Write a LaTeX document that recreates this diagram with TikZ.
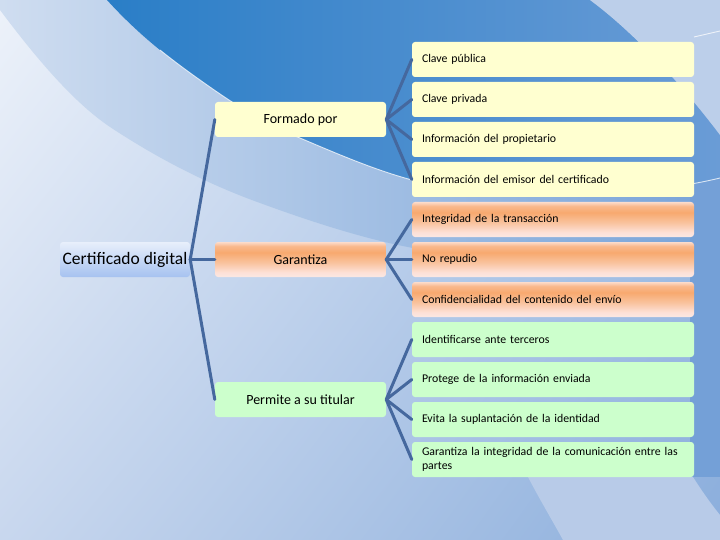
\documentclass[tikz,border=0pt]{standalone}
\usepackage{fontspec}
\usetikzlibrary{shadings}
\setmainfont{Carlito}
\definecolor{bgUL}{HTML}{EDF2FA}
\definecolor{bgUR}{HTML}{A9C3E7}
\definecolor{bgLL}{HTML}{C8D7EE}
\definecolor{bgLR}{HTML}{8BAEDC}
\definecolor{midL}{HTML}{CFDDF0}
\definecolor{midR}{HTML}{78A3D8}
\definecolor{dkL}{HTML}{2A7EC7}
\definecolor{dkR}{HTML}{6A9CD6}
\definecolor{edgeR}{HTML}{74A0D7}
\definecolor{lightTR}{HTML}{BCCFEA}
\definecolor{lightBR}{HTML}{B8CBE8}
\definecolor{lineblue}{HTML}{45689E}
\definecolor{yelc}{HTML}{FFFFD0}
\definecolor{grnc}{HTML}{CCFFCC}
\definecolor{cdTop}{HTML}{E8EFFB}
\definecolor{cdBot}{HTML}{A6C2F0}
\definecolor{o1}{HTML}{FBE8E4}
\definecolor{o2}{HTML}{FDE0D6}
\definecolor{o3}{HTML}{F9C29C}
\definecolor{o4}{HTML}{F8A96F}
\definecolor{o5}{HTML}{F9B88C}
\definecolor{o6}{HTML}{FCDCCB}
\pgfdeclareverticalshading{orangebar}{100bp}{color(0bp)=(o1); color(25bp)=(o1); color(32bp)=(o2); color(46bp)=(o3); color(60bp)=(o4); color(69bp)=(o5); color(75bp)=(o6); color(100bp)=(o6)}
\tikzset{
  conn/.style={draw=lineblue, line width=3pt, line cap=round},
  rbox/.style={rounded corners=3pt, minimum width=282pt, minimum height=35pt,
    text width=262pt, align=left, inner xsep=10pt, inner ysep=0pt,
    font=\fontsize{11.8}{14}\selectfont},
  mbox/.style={rounded corners=3pt, minimum width=171pt, minimum height=35pt,
    inner sep=0pt, font=\fontsize{14}{16}\selectfont},
  yelfill/.style={fill=yelc},
  grnfill/.style={fill=grnc},
  orgfill/.style={shading=orangebar},
  cdbox/.style={rounded corners=3pt, minimum width=130pt, minimum height=35pt,
    inner sep=0pt, top color=cdTop, bottom color=cdBot,
    font=\fontsize{17.5}{19}\selectfont},
  hilite/.style={draw=white, line width=0.9pt, opacity=0.75}
}
\begin{document}
\begin{tikzpicture}[x=1pt,y=-1pt]
\useasboundingbox (0,0) rectangle (720,540);
% background
\shade[upper left=bgUL, upper right=bgUR, lower left=bgLL, lower right=bgLR] (0,0) rectangle (720,540);
\shade[left color=midL, right color=midR]
  (0,10) .. controls (30,50) and (70,100) .. (110,127)
  .. controls (160,160) and (210,185) .. (260,203)
  .. controls (320,225) and (370,240) .. (413,248)
  .. controls (550,270) and (650,275) .. (720,270) -- (720,0) -- (0,0) -- cycle;
\fill[edgeR] (690,178) rectangle (720,477);
\shade[left color=dkL, right color=dkR]
  (107,0) .. controls (125,20) and (145,38) .. (160,50)
  .. controls (175,62) and (190,73) .. (200,80)
  .. controls (235,105) and (265,124) .. (300,138)
  .. controls (340,155) and (375,170) .. (412,180)
  .. controls (550,200) and (650,195) .. (720,178)
  -- (720,135) .. controls (690,95) and (640,37) .. (590,0) -- cycle;
\fill[lightTR] (590,0) .. controls (640,37) and (690,95) .. (720,135) -- (720,0) -- cycle;
\fill[lightBR] (528,477) .. controls (540,500) and (552,520) .. (563,540)
  -- (720,540) -- (720,515) .. controls (708,500) and (700,488) .. (693,477) -- cycle;
\draw[hilite] (160,50) .. controls (175,62) and (190,73) .. (200,80)
  .. controls (235,105) and (265,124) .. (300,138)
  .. controls (340,155) and (375,170) .. (412,180)
  .. controls (550,200) and (650,195) .. (720,178);
\draw[hilite] (694,37) -- (720,31);
% nodes
\node[cdbox] (cd) at (125,259.5) {Certificado digital};
\node[mbox, yelfill] (fp) at (300.5,119.5) {Formado por};
\node[mbox, orgfill] (ga) at (300.5,259.5) {Garantiza};
\node[mbox, grnfill] (pt) at (300.5,399.5) {Permite a su titular};
\node[rbox, yelfill] (r0) at (553,59.5) {Clave pública};
\node[rbox, yelfill] (r1) at (553,99.5) {Clave privada};
\node[rbox, yelfill] (r2) at (553,139.5) {Información del propietario};
\node[rbox, yelfill] (r3) at (553,179.5) {Información del emisor del certificado};
\node[rbox, orgfill] (r4) at (553,219.5) {Integridad de la transacción};
\node[rbox, orgfill] (r5) at (553,259.5) {No repudio};
\node[rbox, orgfill] (r6) at (553,299.5) {Confidencialidad del contenido del envío};
\node[rbox, grnfill] (r7) at (553,339.5) {Identificarse ante terceros};
\node[rbox, grnfill] (r8) at (553,379.5) {Protege de la información enviada};
\node[rbox, grnfill] (r9) at (553,419.5) {Evita la suplantación de la identidad};
\node[rbox, grnfill] (r10) at (553,459.5) {Garantiza la integridad de la comunicación entre las partes};
% connectors
\foreach \m in {fp,ga,pt} \draw[conn] (cd.east) -- (\m.west);
\foreach \r in {r0,r1,r2,r3} \draw[conn] (fp.east) -- (\r.west);
\foreach \r in {r4,r5,r6} \draw[conn] (ga.east) -- (\r.west);
\foreach \r in {r7,r8,r9,r10} \draw[conn] (pt.east) -- (\r.west);
\end{tikzpicture}
\end{document}
